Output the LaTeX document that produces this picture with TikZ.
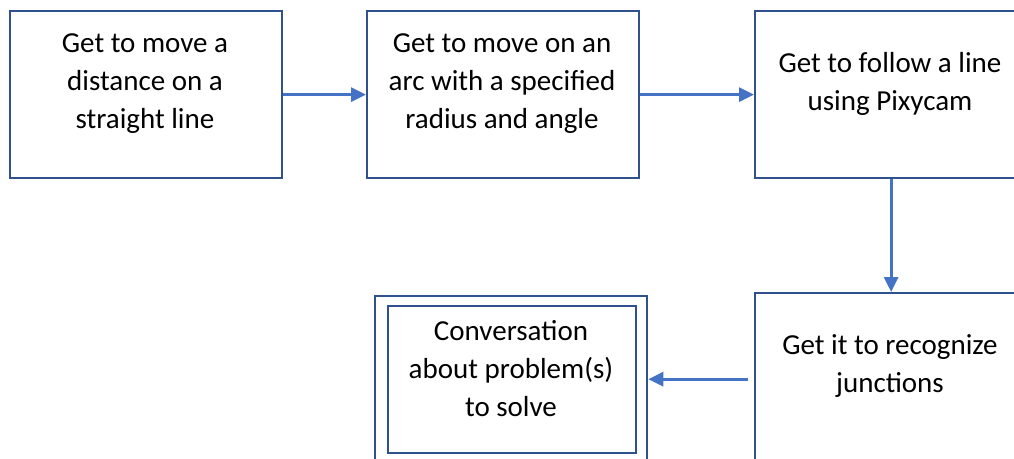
\documentclass[tikz,border=0pt]{standalone}
\usepackage{fontspec}
\setmainfont{Carlito}
\usetikzlibrary{arrows.meta}
\definecolor{boxblue}{HTML}{2F528F}
\definecolor{arrowblue}{HTML}{4472C4}
\begin{document}
\begin{tikzpicture}[x=1pt,y=-1pt,
  box/.style={draw=boxblue,line width=2.3pt,rectangle,inner sep=0pt,anchor=north west},
  lbl/.style={align=center,font=\fontsize{29}{38}\selectfont,inner sep=0pt,text=black},
  conn/.style={draw=arrowblue,line width=3pt,-{Triangle[length=15pt,width=14pt]}}]
\useasboundingbox (0,0) rectangle (1014,458);
\clip (0,0) rectangle (1014,458);
\node[box,minimum width=272pt,minimum height=167pt] (b1) at (9,10) {};
\node[box,minimum width=272pt,minimum height=167pt] (b2) at (366,10) {};
\node[box,minimum width=272pt,minimum height=167pt] (b3) at (754,10) {};
\node[box,minimum width=272pt,minimum height=172pt] (b4) at (754,292) {};
\node[box,minimum width=272pt,minimum height=170pt] (b5) at (374,295) {};
\node[box,minimum width=248pt,minimum height=147pt] (b5i) at (387,305) {};
\node[lbl] (t1) at (145,84) {Get to move a\\distance on a\\straight line};
\node[lbl] (t2) at (502,84) {Get to move on an\\arc with a specified\\radius and angle};
\node[lbl] (t3) at (890,84) {Get to follow a line\\using Pixycam};
\node[lbl] (t4) at (890,366) {Get it to recognize\\junctions};
\node[lbl] (t5) at (511,369) {Conversation\\about problem(s)\\to solve};
\coordinate (c4) at ([xshift=-6pt]b4.west);
\draw[conn] (b1.east) -- (b2.west);
\draw[conn] (b2.east) -- (b3.west);
\draw[conn] (b3.south) -- (b4.north);
\draw[conn] (c4) -- (c4 -| b5.east);
\end{tikzpicture}
\end{document}
